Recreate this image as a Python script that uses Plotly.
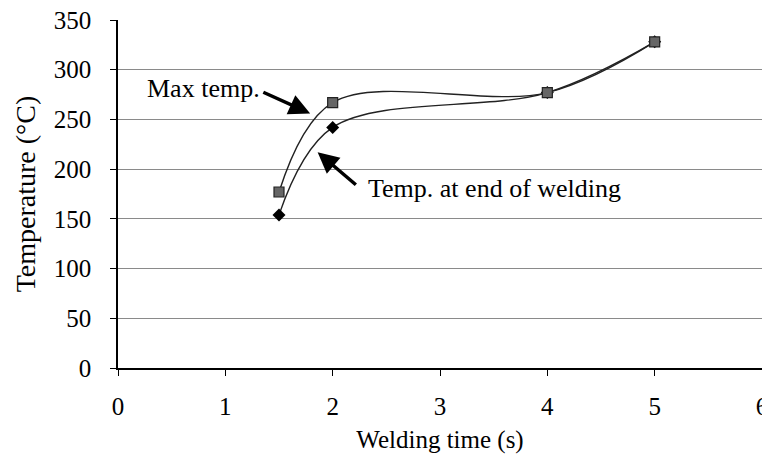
import plotly.graph_objects as go

# welding time (s)
time_s = [1.5, 2, 4, 5]
# temperatures (deg C)
max_temp = [177, 267, 277, 328]
end_temp = [154, 242, 277, 328]

x_ticks = [0, 1, 2, 3, 4, 5, 6]
y_ticks = [0, 50, 100, 150, 200, 250, 300, 350]

font = "Liberation Serif, Times New Roman, serif"

fig = go.Figure()

fig.add_trace(go.Scatter(x=time_s, y=end_temp, mode='lines+markers',
                         name='Temp. at end of welding',
                         line=dict(shape='spline', smoothing=1.0, color='#222', width=1.4),
                         marker=dict(symbol='diamond', size=10, color='black')))

fig.add_trace(go.Scatter(x=time_s, y=max_temp, mode='lines+markers',
                         name='Max temp.',
                         line=dict(shape='spline', smoothing=1.0, color='#222', width=1.4),
                         marker=dict(symbol='square', size=10, color='#666',
                                     line=dict(color='#222', width=1.2))))

# labels with arrows
fig.add_annotation(x=0.80, y=281, text='Max temp.', showarrow=False,
                   font=dict(size=26, color='black', family=font))
fig.add_annotation(x=1.79, y=256, ax=1.34, ay=278, axref='x', ayref='y',
                   text='', showarrow=True, arrowhead=2, arrowsize=1.2,
                   arrowwidth=3.5, arrowcolor='black')

fig.add_annotation(x=2.31, y=181, text='Temp. at end of welding', showarrow=False,
                   xanchor='left', font=dict(size=26, color='black', family=font))
fig.add_annotation(x=1.86, y=217, ax=2.23, ay=183, axref='x', ayref='y',
                   text='', showarrow=True, arrowhead=2, arrowsize=1.2,
                   arrowwidth=3.5, arrowcolor='black')

# page body adds 8px on left/top, so the figure is shrunk to fit the window
fig.update_layout(
    width=762, height=454,
    margin=dict(l=110, r=8, t=12, b=94, autoexpand=False),
    paper_bgcolor='white', plot_bgcolor='white',
    showlegend=False,
    font=dict(family=font, size=25, color='black'),
    xaxis=dict(range=[0, 6], tickvals=x_ticks, showgrid=False, zeroline=False,
               showline=True, linecolor='black', linewidth=1.5,
               ticks='outside', ticklen=6, tickcolor='black', automargin=False,
               ticklabelstandoff=9, ticklabeloverflow='allow',
               title=dict(text='Welding time (s)', font=dict(size=25), standoff=12)),
    yaxis=dict(range=[0, 350], tickvals=y_ticks, showgrid=True, gridcolor='#8a8a8a',
               gridwidth=1.2, zeroline=False, showline=True, linecolor='black',
               linewidth=1.5, mirror=True, ticks='outside', ticklen=6, tickcolor='black',
               automargin=False, ticklabelstandoff=14, ticklabeloverflow='allow',
               title=dict(text='Temperature (°C)', font=dict(size=28), standoff=10)),
)

fig.write_html("out.html")
